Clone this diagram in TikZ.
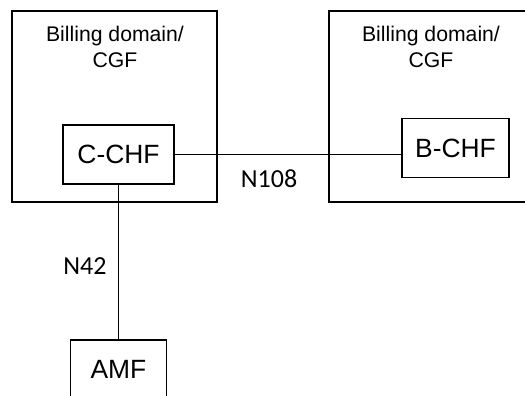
\documentclass[tikz,border=0pt]{standalone}
\usepackage{fontspec}
\setmainfont{Liberation Sans}
\newfontfamily\ifacefont{Carlito}
\usetikzlibrary{positioning}
\tikzset{
  dombox/.style={draw=black,line width=0.65pt,minimum width=102.5pt,minimum height=95.5pt,inner sep=0pt},
  fnbox/.style={draw=black,line width=0.65pt,minimum height=29.5pt,inner sep=0pt,font=\fontsize{13.2}{15}\selectfont},
  domlabel/.style={align=center,inner sep=0pt,font=\fontsize{10.6}{13}\selectfont},
  iflabel/.style={inner sep=0pt,font=\ifacefont\fontsize{13}{15}\selectfont},
  iface/.style={draw=black,line width=0.65pt}
}
\begin{document}
\begin{tikzpicture}[x=0.5pt,y=-0.5pt]
\useasboundingbox (0,0) rectangle (525,396);
\clip (0,0) rectangle (525,396);
% Billing domains
\node (dom1)[dombox] at (114.5,106.5) {};
\node (dom2)[dombox,minimum width=130pt] at (459,106.5) {};
\node (dom1txt)[domlabel] at (115,47) {Billing domain/\\CGF};
\node (dom2txt)[domlabel] at (431,47) {Billing domain/\\CGF};
% Charging functions
\node (cchf)[fnbox,minimum width=55.5pt] at (118.5,154.5) {C-CHF};
\node (bchf)[fnbox,minimum width=53.5pt] at (455.5,148) {B-CHF};
\node (amf)[fnbox,minimum width=48pt] at (118.5,369.5) {AMF};
% Interfaces
\draw[iface] (cchf.east) -- (cchf.east -| bchf.west);
\draw[iface] (cchf.south) -- (amf.north);
\node (n108)[iflabel] at (269,179) {N108};
\node (n42)[iflabel] at (85,266) {N42};
\end{tikzpicture}
\end{document}
